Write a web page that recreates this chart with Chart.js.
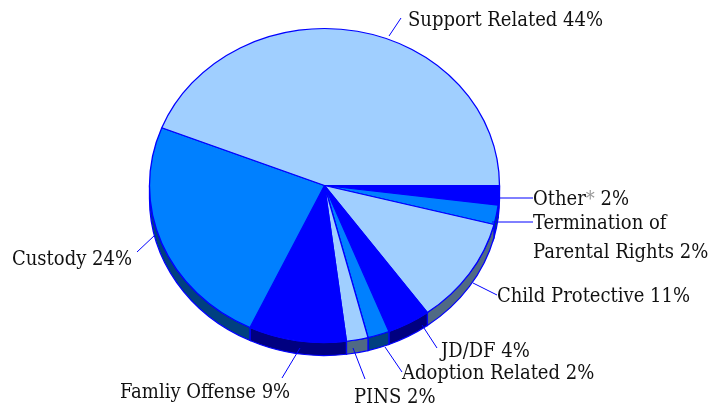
<!DOCTYPE html>
<html>
<head>
<meta charset="utf-8">
<title>Petitions by case type</title>
<script src="https://cdn.jsdelivr.net/npm/chart.js@4/dist/chart.umd.min.js"></script>
<style>
  html, body { margin: 0; padding: 0; background: #fff; }
  canvas { display: block; }
</style>
</head>
<body>
<canvas id="pie" width="712" height="407"></canvas>
<script>
(function() {
  'use strict';

  // clockwise from 3 o'clock
  var categories = ['Other*', 'Termination of Parental Rights', 'Child Protective', 'JD/DF',
    'Adoption Related', 'PINS', 'Famliy Offense', 'Custody', 'Support Related'];
  var shares = [2, 2, 11, 4, 2, 2, 9, 24, 44];

  var LIGHT = '#a0cfff';
  var MID   = '#0080ff';
  var DARK  = '#0000ff';
  var EDGE  = '#0000ff';
  var faceColors = [DARK, MID, LIGHT, DARK, MID, LIGHT, DARK, MID, LIGHT];

  var LIGHT_SIDE = '#506a84';
  var MID_SIDE   = '#004080';
  var DARK_SIDE  = '#000080';
  var sideColors = [DARK_SIDE, MID_SIDE, LIGHT_SIDE, DARK_SIDE, MID_SIDE, LIGHT_SIDE, DARK_SIDE, MID_SIDE, LIGHT_SIDE];

  var RADIUS = 175;
  var SQUASH = 157 / 175;  // vertical foreshortening of the disc
  var DEPTH  = 13;         // wall height in screen pixels

  var FONT = "20px 'DejaVu Serif Condensed', 'DejaVu Serif', serif";

  // label layout: text lines with baseline, and the leader drawn to it
  var callouts = [
    { lines: ['Other'], x: 533, y: 205, leader: [499, 198, 533, 198], star: true },
    { lines: ['Termination of', 'Parental Rights'], x: 533, y: 229, gap: 29, leader: [492, 222, 533, 222] },
    { x: 497, y: 302, leader: [473, 283, 497, 295] },
    { x: 441, y: 357, leader: [422, 325, 437, 348] },
    { x: 402, y: 379, leader: [385, 347, 402, 372] },
    { x: 354, y: 403, leader: [353, 348, 365, 379] },
    { x: 120, y: 398, leader: [300, 348, 282, 378] },
    { x: 12,  y: 265, leader: [155, 235, 137, 252] },
    { x: 408, y: 26,  leader: [389, 36, 401, 18] }
  ];

  // squash the disc about its centre and put the wall underneath
  var tiltPlugin = {
    id: 'tilt',
    beforeDatasetsDraw: function(chart) {
      var ctx = chart.ctx;
      var arcs = chart.getDatasetMeta(0).data;
      var cx = arcs[0].x, cy = arcs[0].y;
      ctx.save();
      ctx.translate(cx, cy);
      ctx.scale(1, SQUASH);
      ctx.translate(-cx, -cy);

      var drop = DEPTH / SQUASH;
      arcs.forEach(function(arc, i) {
        var from = Math.max(arc.startAngle, 0);
        var to = Math.min(arc.endAngle, Math.PI);
        if (to <= from) return;
        ctx.beginPath();
        ctx.arc(cx, cy, arc.outerRadius, from, to);
        ctx.arc(cx, cy + drop, arc.outerRadius, to, from, true);
        ctx.closePath();
        ctx.fillStyle = sideColors[i];
        ctx.fill();
        ctx.lineWidth = 1.3;
        ctx.strokeStyle = EDGE;
        ctx.stroke();
      });
    },
    afterDatasetsDraw: function(chart) {
      chart.ctx.restore();
    }
  };

  var calloutPlugin = {
    id: 'callouts',
    afterDraw: function(chart) {
      var ctx = chart.ctx;
      ctx.save();
      ctx.font = FONT;
      ctx.textBaseline = 'alphabetic';
      callouts.forEach(function(c, i) {
        ctx.beginPath();
        ctx.moveTo(c.leader[0], c.leader[1]);
        ctx.lineTo(c.leader[2], c.leader[3]);
        ctx.strokeStyle = EDGE;
        ctx.lineWidth = 1;
        ctx.stroke();

        var pct = shares[i] + '%';
        ctx.fillStyle = '#111';
        if (c.star) {
          var w = ctx.measureText(c.lines[0]).width;
          ctx.fillText(c.lines[0], c.x, c.y);
          ctx.fillStyle = '#999';
          ctx.fillText('*', c.x + w, c.y);
          ctx.fillStyle = '#111';
          ctx.fillText(' ' + pct, c.x + w + ctx.measureText('*').width, c.y);
        } else if (c.lines) {
          ctx.fillText(c.lines[0], c.x, c.y);
          ctx.fillText(c.lines[1] + ' ' + pct, c.x, c.y + c.gap);
        } else {
          ctx.fillText(categories[i] + ' ' + pct, c.x, c.y);
        }
      });
      ctx.restore();
    }
  };

  new Chart(document.getElementById('pie'), {
    type: 'pie',
    data: {
      labels: categories,
      datasets: [{
        data: shares,
        backgroundColor: faceColors,
        borderColor: EDGE,
        borderWidth: 1.3,
        hoverOffset: 0,
        clip: false
      }]
    },
    options: {
      responsive: false,
      animation: false,
      rotation: 90,
      radius: RADIUS,
      layout: { padding: { left: 149.5, right: 212.5, top: 10.5, bottom: 46.5 } },
      plugins: {
        legend: { display: false },
        tooltip: { enabled: false }
      }
    },
    plugins: [tiltPlugin, calloutPlugin]
  });
})();
</script>
</body>
</html>
